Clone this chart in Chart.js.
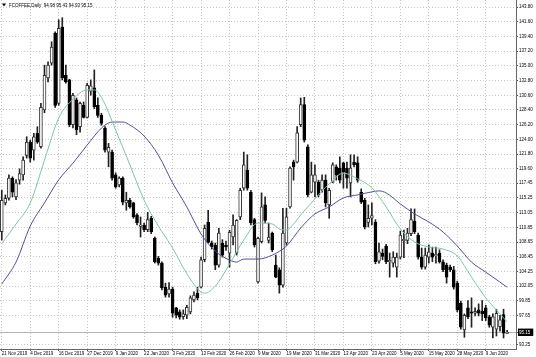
<!DOCTYPE html>
<html>
<head>
<meta charset="utf-8">
<script src="https://cdn.jsdelivr.net/npm/chart.js@4.4.1/dist/chart.umd.min.js"></script>
<style>
  html, body { margin: 0; padding: 0; background: #fff; }
  #wrap { width: 536px; height: 357px; }
</style>
</head>
<body>
<div id="wrap"><canvas id="chart" width="536" height="357"></canvas></div>
<script>
// FCOFFEE daily candles, 21 Nov 2019 .. mid Jun 2020
const symbol = 'FCOFFEE,Daily';
const dateTicks = ['21 Nov 2019', '4 Dec 2019', '16 Dec 2019', '27 Dec 2019', '9 Jan 2020', '22 Jan 2020',
  '3 Feb 2020', '13 Feb 2020', '26 Feb 2020', '9 Mar 2020', '19 Mar 2020', '31 Mar 2020', '13 Apr 2020',
  '23 Apr 2020', '5 May 2020', '15 May 2020', '28 May 2020', '9 Jun 2020'];
const priceTicks = [143.80, 141.60, 139.40, 137.20, 135.00, 132.80, 130.60, 128.40, 126.20, 124.00, 121.80,
  119.60, 117.45, 115.25, 113.05, 110.85, 108.65, 106.45, 104.25, 102.05, 99.85, 97.65, 95.15, 93.25];

const opens = [110.2, 114.5, 115.2, 118.2, 115.4, 117.9, 118.7, 121.6, 123.6, 122.4,
  124.9, 122.9, 128.4, 133.2, 135.4, 139.9, 129.4, 140.8, 133.6, 132.9,
  126.2, 129.9, 125.9, 129.1, 127.3, 131.2, 131.7, 129.1, 127.6, 125.7,
  122.1, 122.1, 118.7, 117.2, 118.2, 114.5, 114.9, 114.5, 112.7, 111.0,
  111.2, 110.5, 112.2, 109.2, 106.2, 105.5, 101.9, 100.9, 101.6, 98.8,
  98.2, 97.5, 97.7, 98.2, 100.0, 101.0, 101.9, 106.0, 111.6, 108.5,
  108.2, 105.2, 108.5, 108.2, 107.0, 109.4, 107.0, 112.4, 116.7, 119.4,
  116.1, 112.0, 102.7, 108.7, 114.2, 108.9, 110.0, 105.2, 104.5, 102.2,
  108.5, 113.9, 120.6, 120.6, 126.2, 129.2, 122.9, 116.1, 117.6, 117.6,
  116.4, 117.9, 114.2, 117.6, 119.9, 119.7, 120.5, 119.7, 117.5, 120.6,
  120.5, 116.1, 114.9, 111.6, 112.2, 111.6, 105.8, 107.0, 108.0, 105.7,
  105.5, 104.9, 106.4, 108.8, 108.9, 109.9, 111.8, 109.7, 106.4, 104.9,
  106.4, 107.0, 106.6, 107.0, 105.7, 105.2, 104.9, 104.5, 102.5, 99.5,
  95.5, 98.8, 98.2, 98.0, 98.5, 98.3, 98.8, 97.45, 95.9, 95.6,
  96.0, 97.8, 94.98];
const highs = [116.4, 115.7, 118.7, 118.4, 118.0, 119.6, 121.4, 124.4, 123.9, 124.9,
  125.9, 129.4, 135.1, 135.6, 138.6, 140.1, 141.9, 142.2, 135.1, 133.0,
  130.9, 130.2, 129.6, 129.6, 132.4, 132.9, 134.4, 130.2, 127.9, 125.9,
  123.4, 122.4, 119.0, 118.4, 118.4, 116.1, 115.2, 114.6, 112.9, 112.4,
  111.5, 113.1, 112.5, 109.4, 106.5, 105.7, 102.5, 102.6, 101.9, 98.9,
  98.5, 98.5, 99.2, 100.6, 101.2, 101.9, 106.4, 111.2, 113.4, 108.8,
  108.5, 110.7, 109.0, 108.8, 110.4, 112.7, 112.0, 116.7, 122.1, 121.7,
  116.4, 112.2, 109.4, 116.0, 115.4, 111.5, 110.15, 106.7, 104.8, 113.7,
  113.7, 119.9, 120.9, 125.9, 130.2, 130.3, 123.2, 120.6, 120.2, 117.9,
  118.7, 118.7, 116.7, 120.5, 120.2, 121.4, 120.6, 120.6, 121.7, 121.7,
  121.4, 116.6, 115.2, 114.2, 114.5, 112.0, 108.5, 107.6, 108.3, 107.0,
  107.2, 107.0, 110.3, 110.45, 110.7, 113.6, 113.6, 110.0, 107.75, 107.75,
  108.2, 107.9, 107.9, 107.5, 106.0, 105.5, 105.2, 105.0, 102.8, 99.8,
  97.9, 99.9, 100.3, 98.8, 99.4, 99.9, 99.2, 97.7, 97.9, 98.6,
  97.7, 98.6, 95.43];
const lows = [108.95, 114.2, 114.9, 115.4, 115.0, 117.3, 117.9, 121.2, 120.6, 120.9,
  123.4, 122.7, 128.0, 132.6, 135.1, 128.8, 129.1, 132.9, 132.4, 125.9,
  125.7, 124.7, 125.1, 127.2, 127.2, 130.6, 128.6, 127.3, 126.1, 122.1,
  119.9, 117.9, 116.7, 116.9, 114.2, 113.4, 113.7, 112.2, 111.2, 109.4,
  110.2, 110.2, 109.9, 105.5, 105.2, 101.5, 100.4, 100.4, 97.4, 97.3,
  97.1, 97.1, 97.2, 97.9, 99.7, 100.0, 101.8, 105.7, 108.5, 107.6,
  104.5, 104.9, 106.4, 107.4, 104.9, 108.2, 106.7, 112.0, 116.4, 116.4,
  111.2, 107.9, 102.5, 108.5, 111.5, 108.5, 107.2, 103.3, 101.0, 101.9,
  108.2, 113.7, 117.9, 120.5, 125.9, 123.6, 115.4, 116.0, 115.4, 115.4,
  116.1, 113.9, 112.2, 117.5, 117.9, 117.5, 116.7, 116.7, 115.4, 119.9,
  117.6, 114.4, 110.6, 110.9, 111.2, 105.4, 105.5, 106.0, 105.4, 103.4,
  104.9, 103.4, 106.1, 106.3, 108.4, 109.6, 109.9, 106.1, 104.6, 104.6,
  105.5, 105.7, 105.5, 105.5, 104.2, 102.5, 104.2, 101.6, 98.2, 95.6,
  94.4, 97.2, 95.9, 97.6, 97.6, 96.9, 96.9, 95.9, 94.3, 94.6,
  95.3, 94.3, 94.93];
const closes = [114.9, 115.2, 118.2, 116.1, 117.5, 118.9, 120.9, 123.6, 121.2, 124.4,
  123.6, 128.8, 133.6, 135.1, 137.8, 129.1, 140.6, 133.2, 132.6, 126.2,
  130.6, 125.4, 129.4, 127.3, 132.1, 132.0, 128.9, 127.6, 126.4, 122.4,
  122.8, 118.2, 116.9, 118.2, 114.6, 114.9, 113.9, 112.4, 111.5, 111.2,
  110.5, 112.0, 110.2, 105.7, 105.5, 101.8, 100.7, 101.6, 98.0, 97.7,
  97.4, 97.9, 98.9, 100.3, 100.7, 100.3, 106.0, 110.7, 108.6, 107.9,
  105.2, 110.0, 106.7, 107.9, 110.1, 111.2, 111.9, 116.4, 120.2, 116.7,
  111.5, 108.2, 109.2, 113.9, 111.9, 109.4, 107.5, 103.4, 102.2, 110.0,
  112.4, 119.7, 119.9, 125.0, 129.2, 123.9, 115.7, 118.7, 118.7, 115.7,
  117.9, 114.5, 116.4, 120.2, 118.7, 117.9, 119.1, 118.2, 119.7, 120.2,
  117.9, 114.6, 110.9, 112.2, 112.6, 105.7, 107.2, 106.5, 105.7, 105.9,
  106.4, 106.4, 109.7, 109.1, 110.0, 112.0, 110.2, 106.4, 104.9, 106.7,
  107.2, 106.4, 106.8, 105.7, 104.5, 103.4, 104.5, 101.9, 98.5, 95.9,
  97.7, 97.45, 98.0, 98.3, 98.0, 97.9, 97.3, 96.2, 97.45, 98.0,
  97.0, 95.0, 95.15];

// moving averages as [bar, price]
const fastMa = [[0, 108.4], [4, 111.35], [8, 114.5], [12, 120.9], [16, 127.2], [20, 130.0], [24, 131.4],
  [26, 131.4], [28, 130.3], [32, 125.4], [36, 120.2], [40, 114.9], [44, 111.05], [48, 107.75], [52, 103.9],
  [56, 101.15], [57, 101.0], [60, 102.05], [64, 105.35], [68, 108.95], [72, 111.5], [76, 111.35], [78, 110.6],
  [80, 110.45], [82, 111.35], [84, 112.7], [88, 115.1], [92, 117.35], [96, 118.95], [100, 118.1], [104, 116.75],
  [108, 113.9], [112, 110.6], [116, 108.65], [120, 107.9], [124, 107.6], [128, 106.55], [132, 103.4],
  [136, 100.3], [140, 97.9], [142, 96.7]];
const slowMa = [[0, 102.35], [4, 105.65], [8, 111.05], [12, 114.5], [16, 117.95], [20, 120.45], [24, 123.15],
  [28, 125.7], [30, 126.45], [32, 126.6], [34, 126.6], [36, 126.15], [40, 124.5], [44, 121.65], [48, 117.5],
  [52, 113.9], [56, 109.85], [60, 107.3], [64, 105.95], [66, 105.65], [68, 106.1], [72, 106.1], [76, 106.7],
  [80, 108.05], [84, 110.75], [88, 112.85], [92, 113.9], [96, 115.25], [100, 115.7], [104, 116.15],
  [106, 116.3], [108, 116.0], [112, 114.35], [116, 112.85], [120, 111.65], [124, 110.15], [128, 108.05],
  [132, 105.65], [136, 104.15], [140, 102.65], [142, 101.9]];

const nSlots = opens.length + 2; // right margin like the terminal's chart shift
const labels = Array.from({length: nSlots}, (_, i) => i);
const lastClose = closes[closes.length - 1];
const font = {family: '"Liberation Sans", Arial, sans-serif', size: 4.5};

function spread(pairs) {
  const out = new Array(opens.length).fill(null);
  pairs.forEach(([i, v]) => { out[i] = v; });
  return out;
}

const overlay = {
  id: 'overlay',
  beforeDatasetsDraw(chart) {
    const {ctx, chartArea} = chart;
    const y = Math.round(chart.scales.y.getPixelForValue(lastClose)) + 0.5;
    ctx.save();
    ctx.strokeStyle = '#b4b4b4';
    ctx.lineWidth = 1;
    ctx.beginPath();
    ctx.moveTo(chartArea.left, y);
    ctx.lineTo(chartArea.right, y);
    ctx.stroke();
    ctx.restore();
  },
  afterDraw(chart) {
    const ctx = chart.ctx;
    ctx.save();
    ctx.fillStyle = '#000';
    ctx.beginPath();
    ctx.moveTo(2, 3.5); ctx.lineTo(6, 3.5); ctx.lineTo(4, 6.5); ctx.closePath();
    ctx.fill();
    ctx.font = '4.5px "Liberation Sans", Arial, sans-serif';
    ctx.textBaseline = 'alphabetic';
    const ohlc = [opens, highs, lows, closes].map(a => a[a.length - 1].toFixed(2)).join(' ');
    ctx.fillText(symbol + '  ' + ohlc, 9, 7);
    ctx.restore();
  }
};

new Chart(document.getElementById('chart'), {
  type: 'bar',
  data: {
    labels: labels,
    datasets: [{
      type: 'line',
      data: spread(fastMa),
      borderColor: '#86c0a2',
      borderWidth: 1,
      pointRadius: 0,
      spanGaps: true,
      cubicInterpolationMode: 'monotone',
      order: 0
    }, {
      type: 'line',
      data: spread(slowMa),
      borderColor: '#50509c',
      borderWidth: 1,
      pointRadius: 0,
      spanGaps: true,
      cubicInterpolationMode: 'monotone',
      order: 0
    }, {
      data: opens.map((o, i) => [o, closes[i]]),
      grouped: false,
      barThickness: 3,
      minBarLength: 1,
      borderWidth: 1,
      borderSkipped: false,
      borderColor: ctx => closes[ctx.dataIndex] >= opens[ctx.dataIndex] ? '#333' : '#000',
      backgroundColor: ctx => closes[ctx.dataIndex] >= opens[ctx.dataIndex] ? '#fff' : '#000',
      order: 1
    }, {
      data: lows.map((l, i) => [l, highs[i]]),
      grouped: false,
      barThickness: 1,
      backgroundColor: '#222',
      borderWidth: 0,
      order: 2
    }]
  },
  options: {
    responsive: false,
    animation: false,
    devicePixelRatio: 1,
    layout: {padding: 0},
    plugins: {legend: {display: false}, tooltip: {enabled: false}},
    scales: {
      x: {
        type: 'category',
        offset: true,
        grid: {offset: false, color: '#c8c8c8', lineWidth: 1, tickLength: 2, tickColor: '#555'},
        border: {color: '#666', dash: [1, 2]},
        ticks: {
          autoSkip: false, maxRotation: 0, minRotation: 0, align: 'start', padding: 0,
          color: '#000', font: font,
          callback: v => dateTicks[v / 8]
        },
        afterBuildTicks: s => {
          s.ticks = s.ticks.filter(t => t.value % 8 === 0 && t.value / 8 < dateTicks.length);
        },
        afterFit: s => { s.height = 8; s.paddingLeft = 0; s.paddingRight = 0; }
      },
      y: {
        position: 'right',
        min: 92.65,
        max: 144.85,
        grid: {
          color: ctx => (ctx.tick && ctx.tick.value === lastClose) ? 'rgba(0,0,0,0)' : '#c8c8c8',
          lineWidth: 1, tickLength: 2, tickColor: '#555'
        },
        border: {color: '#666', dash: [1, 2]},
        ticks: {
          padding: 1,
          font: font,
          color: ctx => ctx.tick.value === lastClose ? '#fff' : '#000',
          showLabelBackdrop: ctx => ctx.tick.value === lastClose,
          backdropColor: '#000',
          backdropPadding: {top: 1, bottom: 1, left: 1, right: 3},
          callback: v => v.toFixed(2)
        },
        afterBuildTicks: s => { s.ticks = priceTicks.map(v => ({value: v})); },
        afterFit: s => { s.width = 20; s.paddingTop = 0; s.paddingBottom = 0; }
      }
    }
  },
  plugins: [overlay]
});
</script>
</body>
</html>
